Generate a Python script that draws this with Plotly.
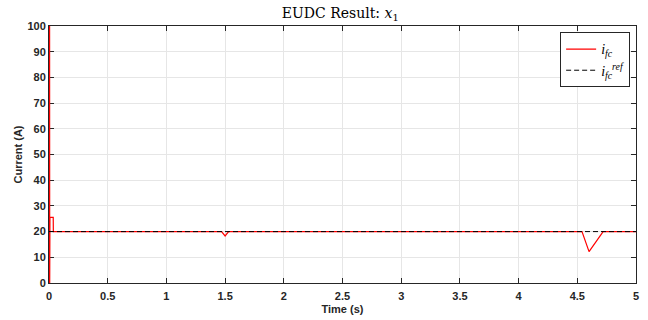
import plotly.graph_objects as go

# Data
t_fc = [0.0, 0.003, 0.004, 0.005, 0.006, 0.008, 0.036, 0.037, 1.47, 1.50, 1.53, 4.54, 4.60, 4.72, 5.0]
i_fc = [0.0, 0.0, 100.0, 100.0, 0.0, 25.5, 25.5, 20.0, 20.0, 18.3, 20.0, 20.0, 12.2, 20.0, 20.0]
t_ref = [0.0, 5.0]
i_ref = [20.0, 20.0]

x_ticks = [0, 0.5, 1, 1.5, 2, 2.5, 3, 3.5, 4, 4.5, 5]
x_labels = ["0", "0.5", "1", "1.5", "2", "2.5", "3", "3.5", "4", "4.5", "5"]
y_ticks = [0, 10, 20, 30, 40, 50, 60, 70, 80, 90, 100]

fig = go.Figure()
fig.add_trace(go.Scatter(
    x=t_fc, y=i_fc, mode="lines",
    line=dict(color="#ff0000", width=1.2, simplify=False),
    name="<i>i</i><sub><i>fc</i></sub>",
    cliponaxis=False,
))
fig.add_trace(go.Scatter(
    x=t_ref, y=i_ref, mode="lines",
    line=dict(color="#000000", width=1, dash="5px,3px"),
    name="<i>i</i><sub><i>fc</i></sub><sup><i>ref</i></sup>",
))

axis_common = dict(
    showline=True, linecolor="#262626", linewidth=1, mirror="allticks",
    ticks="inside", ticklen=5, tickcolor="#262626", tickwidth=1,
    showgrid=True, gridcolor="#e6e6e6", gridwidth=1, zeroline=False,
    automargin=False, layer="below traces",
    tickfont=dict(family="Liberation Sans, Arial, sans-serif", size=11, color="#262626"),
)

fig.update_layout(
    width=648, height=320,
    margin=dict(l=49, r=12, t=26, b=37),
    paper_bgcolor="white", plot_bgcolor="white",
    title=dict(
        text="EUDC Result: <i>x</i><sub>1</sub>",
        x=0.525, xanchor="center", y=0.96, yanchor="middle",
        font=dict(family="DejaVu Serif, Liberation Serif, serif", size=14, color="#000000"),
    ),
    showlegend=True,
    legend=dict(
        x=0.99, xanchor="right", y=0.975, yanchor="top",
        bgcolor="white", bordercolor="#262626", borderwidth=1,
        font=dict(family="Liberation Serif, DejaVu Serif, serif", size=14, color="#000000"),
        itemwidth=30, tracegroupgap=0,
    ),
)
fig.update_xaxes(
    range=[0, 5], tickvals=x_ticks, ticktext=[f"<b>{s}</b>" for s in x_labels],
    ticklabelstandoff=3,
    title=dict(text="<b>Time (s)</b>", standoff=4,
               font=dict(family="Liberation Sans, Arial, sans-serif", size=11, color="#262626")),
    **axis_common,
)
fig.update_yaxes(
    range=[0, 100], tickvals=y_ticks, ticktext=[f"<b>{v}</b>" for v in y_ticks],
    title=dict(text="<b>Current (A)</b>", standoff=2,
               font=dict(family="Liberation Sans, Arial, sans-serif", size=11, color="#262626")),
    **axis_common,
)

fig.write_html("out.html")
